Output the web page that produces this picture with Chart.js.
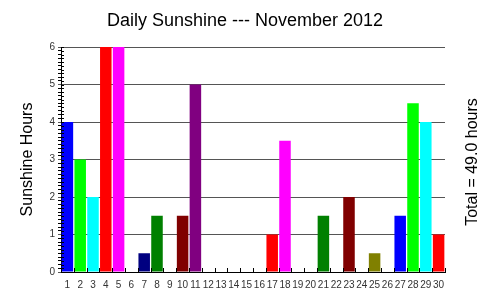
<!DOCTYPE html>
<html>
<head>
<meta charset="utf-8">
<script src="https://cdn.jsdelivr.net/npm/chart.js@4"></script>
<style>
  html, body { margin: 0; padding: 0; background: #fff; }
  #wrap { width: 500px; height: 305px; }
</style>
</head>
<body>
<div id="wrap"><canvas id="chart"></canvas></div>
<script>
// Days of November 2012 and the sunshine hours
const days = ['1', '2', '3', '4', '5', '6', '7', '8', '9', '10',
  '11', '12', '13', '14', '15', '16', '17', '18', '19', '20',
  '21', '22', '23', '24', '25', '26', '27', '28', '29', '30'];
const hours = [4, 3, 2, 6, 6, 0, 0.5, 1.5, 0, 1.5,
  5, 0, 0, 0, 0, 0, 1, 3.5, 0, 0,
  1.5, 0, 2, 0, 0.5, 0, 1.5, 4.5, 4, 1];
const yTicks = [0, 1, 2, 3, 4, 5, 6];

// colour cycle used by the original chart (repeats every 13 days)
const palette = ['#0000ff', '#00ff00', '#00ffff', '#ff0000', '#ff00ff', '#ffff00',
  '#000080', '#008000', '#008080', '#800000', '#800080', '#808000', '#808080'];

const total = hours.reduce((a, b) => a + b, 0);
const font = "'Liberation Sans', Arial, sans-serif";

function isMajor(v) {
  return Math.abs(v - Math.round(v)) < 1e-6;
}

// title, small tick marks between days, minor ticks on the y axis and the right hand note
const extras = {
  id: 'extras',
  afterDatasetsDraw(chart) {
    const ctx = chart.ctx;
    const x = chart.scales.x;
    const y = chart.scales.y;
    const area = chart.chartArea;
    const step = x.getPixelForValue(1) - x.getPixelForValue(0);
    ctx.save();
    ctx.strokeStyle = '#000';
    ctx.lineWidth = 1;
    ctx.beginPath();
    for (let i = 0; i <= days.length; i++) {
      const px = Math.round(x.getPixelForValue(0) + (i - 0.5) * step) + 0.5;
      ctx.moveTo(px, area.bottom);
      ctx.lineTo(px, area.bottom - 4);
    }
    for (let v = 0; v <= 60; v++) {
      const py = Math.round(y.getPixelForValue(v / 10)) + 0.5;
      ctx.moveTo(area.left, py);
      ctx.lineTo(area.left + 3, py);
    }
    ctx.stroke();

    ctx.fillStyle = '#000';
    ctx.textAlign = 'center';
    ctx.textBaseline = 'middle';
    ctx.font = '18px ' + font;
    ctx.fillText('Daily Sunshine --- November 2012', 245, 21);

    ctx.font = '16px ' + font;
    ctx.translate(473, 162);
    ctx.rotate(-Math.PI / 2);
    ctx.fillText('Total = ' + total.toFixed(1) + ' hours', 0, 0);
    ctx.restore();
  }
};

new Chart(document.getElementById('chart'), {
  type: 'bar',
  data: {
    labels: days,
    datasets: [{
      data: hours,
      backgroundColor: hours.map((_, i) => palette[i % palette.length]),
      borderWidth: 0,
      barPercentage: 0.9,
      categoryPercentage: 1.0
    }]
  },
  options: {
    responsive: true,
    maintainAspectRatio: false,
    animation: false,
    layout: { padding: { left: 18, right: 55, top: 47, bottom: 7 } },
    plugins: {
      legend: { display: false },
      tooltip: { enabled: false },
      title: { display: false }
    },
    scales: {
      x: {
        grid: { display: false, drawTicks: false },
        border: { display: true, color: '#000', width: 1 },
        ticks: {
          color: '#333',
          font: { family: font, size: 10 },
          padding: 7,
          maxRotation: 0,
          autoSkip: false
        }
      },
      y: {
        min: 0,
        max: 6,
        afterFit(scale) { scale.width = 43; },
        afterBuildTicks(scale) {
          const t = [];
          for (let v = 0; v <= 60; v++) t.push({ value: v / 10 });
          scale.ticks = t;
        },
        grid: {
          color: c => isMajor(c.tick.value) ? '#555' : 'rgba(0,0,0,0)',
          tickColor: c => isMajor(c.tick.value) ? '#555' : '#000',
          tickLength: 3,
          lineWidth: 1
        },
        border: { display: true, color: '#000', width: 1 },
        ticks: {
          color: '#333',
          font: { family: font, size: 10 },
          padding: 3,
          autoSkip: false,
          callback: v => (isMajor(v) && yTicks.includes(Math.round(v))) ? String(Math.round(v)) : ''
        },
        title: {
          display: true,
          text: 'Sunshine Hours',
          color: '#000',
          font: { family: font, size: 16 },
          padding: { top: 0, bottom: 0 }
        }
      }
    }
  },
  plugins: [extras]
});
</script>
</body>
</html>
